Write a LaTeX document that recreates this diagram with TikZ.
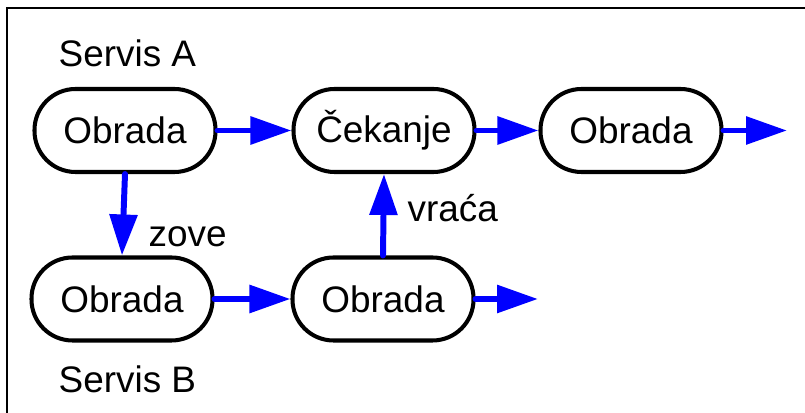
\documentclass[tikz,border=0pt]{standalone}
\usepackage{fontspec}
\setmainfont{Liberation Sans}
\usetikzlibrary{arrows.meta}

\begin{document}
\begin{tikzpicture}[scale=1.0, every node/.style={font=\fontsize{10.5}{12.6}\selectfont},
        proc/.style={draw, line width=1.15pt, rounded corners=0.41cm, minimum width=1.81cm, minimum height=0.83cm, inner sep=0pt},
        lbl/.style={anchor=base west, inner sep=0pt},
        flow/.style={draw=blue, line width=1.7pt, line cap=round, -{Triangle[length=0.41cm, width=0.27cm]}}]
        \useasboundingbox (0,0) rectangle (8.05,4.13);
        \begin{scope}
            \clip (0,0) rectangle (8.05,4.13);
            \draw[line width=0.6pt] (0.07,-1) rectangle (9,4.05);
        \end{scope}

        % servis A
        \node[lbl] (servA) at (0.58,3.46) {Servis A};
        \node[proc] (obrA) at (1.25,2.825) {Obrada};
        \node[proc] (cek) at (3.84,2.825) {Čekanje};
        \node[proc] (obrA2) at (6.31,2.825) {Obrada};
        \coordinate (outA) at (7.87,2.825);

        % servis B
        \node[proc] (obrB) at (1.22,1.14) {Obrada};
        \node[proc] (obrB2) at (3.83,1.14) {Obrada};
        \coordinate (outB) at (5.38,1.14);
        \node[lbl] (servB) at (0.58,0.20) {Servis B};

        \draw[flow] (obrA) -- (cek);
        \draw[flow] (cek) -- (obrA2);
        \draw[flow] (obrA2) -- (outA);
        \draw[flow] (obrB) -- (obrB2);
        \draw[flow] (obrB2) -- (outB);

        \draw[flow] (obrA.south) -- (obrB.north);
        \draw[flow] (obrB2.north) -- (cek.south);
        \node[lbl] (zove) at (1.48,1.66) {zove};
        \node[lbl] (vraca) at (4.07,1.91) {vraća};
    \end{tikzpicture}
\end{document}
